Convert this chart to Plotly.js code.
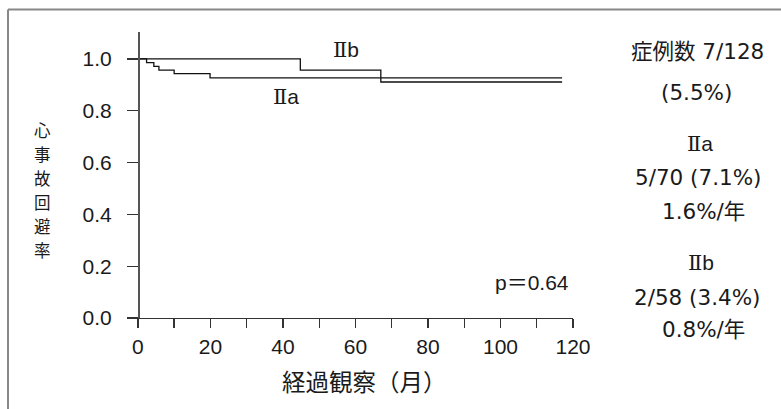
<!DOCTYPE html>
<html>
<head>
<meta charset="utf-8">
<script src="https://cdn.plot.ly/plotly-3.0.1.min.js"></script>
<style>
  html, body { margin: 0; padding: 0; background: #fff; }
  #chart { width: 781px; height: 409px; }
</style>
</head>
<body>
<div id="chart"></div>
<script>
// ---- data ----
const iiaTime = [0, 2.4, 4.4, 5.8, 10.0, 19.9, 117];
const iiaSurv = [1.0, 0.986, 0.971, 0.957, 0.943, 0.927, 0.927];
const iibTime = [0, 44.8, 67.0, 117];
const iibSurv = [1.0, 0.957, 0.911, 0.911];

const xTickVals = [0, 10, 20, 30, 40, 50, 60, 70, 80, 90, 100, 110, 120];
const xTickText = ['0', '', '20', '', '40', '', '60', '', '80', '', '100', '', '120'];
const yTickVals = [0, 0.2, 0.4, 0.6, 0.8, 1.0];
const yTickText = ['0.0', '0.2', '0.4', '0.6', '0.8', '1.0'];

const xTitle = '経過観察（月）';
const yTitleChars = ['心', '事', '故', '回', '避', '率'];
const sideLines = ['症例数 7/128', '(5.5%)', 'Ⅱa', '5/70 (7.1%)', '1.6%/年', 'Ⅱb', '2/58 (3.4%)', '0.8%/年'];
const curveLabels = ['Ⅱb', 'Ⅱa'];
const pText = 'p＝0.64';

// ---- layout geometry (pixels) ----
const W = 781, H = 409;
const L = 127, R = 573, T = 32, B = 318;
const xRange = [-3, 120];
const yRange = [0, 1.104];
const px = x => (x - L) / (R - L);
const py = y => (B - y) / (B - T);

const FONT = 'Liberation Sans, Arial, Noto Sans CJK JP, sans-serif';
const WIDE = 'DejaVu Sans, Noto Sans CJK JP, sans-serif';
const CJK = 'Noto Sans CJK JP, sans-serif';
const txt = '#1a1a1a';
const axisCol = '#555';

// roman numeral drawn in a serif face, the letter in a sans face
const roman = s => s.replace('Ⅱ', '<span style="font-family:DejaVu Serif">Ⅱ</span>');

const traces = [
  { x: iiaTime, y: iiaSurv, type: 'scatter', mode: 'lines', line: { shape: 'hv', color: '#111', width: 1.3 }, name: 'Ⅱa', hoverinfo: 'skip' },
  { x: iibTime, y: iibSurv, type: 'scatter', mode: 'lines', line: { shape: 'hv', color: '#111', width: 1.3 }, name: 'Ⅱb', hoverinfo: 'skip' }
];

const annotations = [];
annotations.push({ xref: 'paper', yref: 'paper', x: px(364), y: py(381), text: xTitle, showarrow: false, xanchor: 'center', yanchor: 'middle', font: { size: 23.5, color: txt, family: CJK } });
// vertical (stacked) y-axis title
const yTitleTop = 130, yTitlePitch = 24;
yTitleChars.forEach((c, i) => annotations.push({ xref: 'paper', yref: 'paper', x: px(42), y: py(yTitleTop + i * yTitlePitch), text: c, showarrow: false, xanchor: 'center', yanchor: 'middle', borderpad: 0, font: { size: 16.5, color: txt, family: CJK } }));
const sideX = [697, 696, 700, 698, 703, 701, 697, 703];
const sideY = [52, 92, 144, 178, 211, 263, 297, 329];
sideLines.forEach((s, i) => {
  const isRoman = s.indexOf('Ⅱ') === 0;
  annotations.push({ xref: 'paper', yref: 'paper', x: px(sideX[i]), y: py(sideY[i]), text: isRoman ? roman(s) : s, showarrow: false, xanchor: 'center', yanchor: 'middle', font: { size: isRoman ? 21 : 21.5, color: txt, family: isRoman ? FONT : WIDE } });
});
const labelPos = [[346, 50], [286, 97]];
curveLabels.forEach((s, i) => annotations.push({ xref: 'paper', yref: 'paper', x: px(labelPos[i][0]), y: py(labelPos[i][1]), text: roman(s), showarrow: false, xanchor: 'center', yanchor: 'middle', font: { size: 21, color: txt, family: FONT } }));
annotations.push({ xref: 'paper', yref: 'paper', x: px(532), y: py(282), text: pText, showarrow: false, xanchor: 'center', yanchor: 'middle', font: { size: 21, color: txt, family: FONT } });

const frameCol = '#888';
const shapes = [
  { type: 'line', xref: 'paper', yref: 'paper', x0: px(8), x1: px(8), y0: py(409), y1: py(9.5), line: { color: frameCol, width: 2 } },
  { type: 'line', xref: 'paper', yref: 'paper', x0: px(8), x1: px(781), y0: py(9.5), y1: py(9.5), line: { color: frameCol, width: 2 } }
];

const layout = {
  width: W, height: H,
  margin: { l: L, r: W - R, t: T, b: H - B, pad: 0 },
  paper_bgcolor: '#fff', plot_bgcolor: '#fff',
  showlegend: false,
  font: { family: FONT, size: 20, color: txt },
  xaxis: {
    range: xRange, domain: [0, 1], anchor: 'y',
    showline: true, linecolor: '#333', linewidth: 1.3,
    showgrid: false, zeroline: false,
    ticks: 'outside', ticklen: 9, tickwidth: 1.3, tickcolor: '#333',
    tickmode: 'array', tickvals: xTickVals, ticktext: xTickText,
    tickfont: { size: 21, color: txt, family: FONT }
  },
  yaxis: {
    range: yRange, domain: [0, 1], anchor: 'free',
    position: (0 - xRange[0]) / (xRange[1] - xRange[0]),
    showline: true, linecolor: axisCol, linewidth: 1.8,
    showgrid: false, zeroline: false,
    ticks: 'outside', ticklen: 11, tickwidth: 1.3, tickcolor: '#333',
    tickmode: 'array', tickvals: yTickVals, ticktext: yTickText,
    ticklabelstandoff: 11,
    tickfont: { size: 21, color: txt, family: FONT }
  },
  annotations: annotations,
  shapes: shapes
};

Plotly.newPlot('chart', traces, layout, { staticPlot: true, displayModeBar: false });
</script>
</body>
</html>
